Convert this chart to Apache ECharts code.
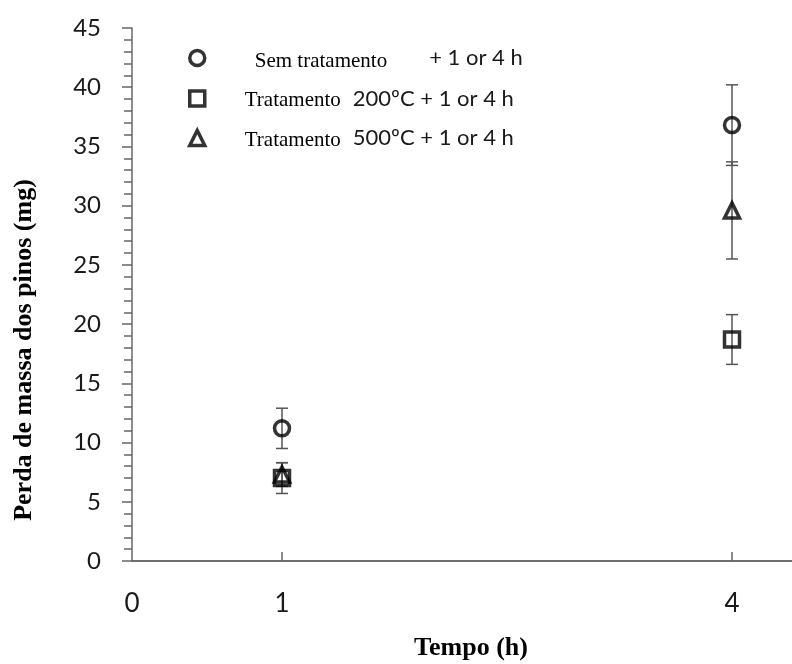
<!DOCTYPE html>
<html>
<head>
<meta charset="utf-8">
<script src="https://cdn.jsdelivr.net/npm/echarts@6/dist/echarts.min.js"></script>
<style>
  html, body { margin: 0; padding: 0; background: #fff; }
  #chart { width: 792px; height: 664px; }
</style>
</head>
<body>
<div id="chart"></div>
<script>
// time values (h) and mean mass loss (mg) with half error bar
const tempos = [1, 4];
const semTratamento = [11.2, 36.8];
const semTratamentoErr = [1.7, 3.4];
const trat200 = [7.0, 18.7];
const trat200Err = [1.3, 2.1];
const trat500 = [7.3, 29.6];
const trat500Err = [1.0, 4.1];
const xLabels = [0, 1, 4];

const nomes = ['Sem tratamento', 'Tratamento 200', 'Tratamento 500'];

const chart = echarts.init(document.getElementById('chart'));

function pontos(vals) {
  return tempos.map((t, i) => [t, vals[i]]);
}
function barras(vals, errs) {
  return tempos.map((t, i) => [t, vals[i] - errs[i], vals[i] + errs[i]]);
}

function renderErro(params, api) {
  const x = api.value(0);
  const lo = api.coord([x, api.value(1)]);
  const hi = api.coord([x, api.value(2)]);
  const cap = 6;
  const style = { stroke: '#555', lineWidth: 1.5 };
  return {
    type: 'group',
    children: [
      { type: 'line', shape: { x1: lo[0], y1: lo[1], x2: hi[0], y2: hi[1] }, style: style },
      { type: 'line', shape: { x1: lo[0] - cap, y1: lo[1], x2: lo[0] + cap, y2: lo[1] }, style: style },
      { type: 'line', shape: { x1: hi[0] - cap, y1: hi[1], x2: hi[0] + cap, y2: hi[1] }, style: style }
    ]
  };
}

const marcador = {
  color: 'rgba(255,255,255,0)',
  borderColor: '#000',
  borderWidth: 3.5
};

const sans = 'Lato, "Open Sans", sans-serif';
const serif = '"Liberation Serif", "DejaVu Serif", serif';

const option = {
  animation: false,
  backgroundColor: '#fff',
  grid: { left: 132, right: 0, top: 28, bottom: 103 },
  legend: {
    orient: 'vertical',
    left: 183,
    top: 42,
    itemWidth: 15,
    itemHeight: 15,
    itemGap: 16,
    data: nomes.map((n, i) => ({
      name: n,
      icon: ['circle', 'rect', 'triangle'][i],
      itemStyle: { color: 'rgba(255,255,255,0)', borderColor: '#000', borderWidth: 3.5 }
    })),
    formatter: function (name) {
      if (name === nomes[0]) return '{s1|Sem tratamento}{t|+ 1 or 4 h}';
      if (name === nomes[1]) return '{s2|Tratamento}{t|200ºC + 1 or 4 h}';
      return '{s2|Tratamento}{t|500ºC + 1 or 4 h}';
    },
    textStyle: {
      rich: {
        s1: { fontFamily: serif, fontSize: 21, color: '#000', padding: [6, 42, 0, 45] },
        s2: { fontFamily: serif, fontSize: 21, color: '#000', padding: [4, 12, 0, 35] },
        t: { fontFamily: sans, fontSize: 22, color: '#1a1a1a' }
      }
    }
  },
  xAxis: [
    {
      type: 'value',
      min: 0,
      max: 4.4,
      axisLine: { lineStyle: { color: '#666', width: 1.5 } },
      axisTick: { show: true, inside: true, length: 9, customValues: [1, 4], lineStyle: { color: '#666', width: 1.5 } },
      axisLabel: { customValues: xLabels, margin: 30, fontFamily: sans, fontSize: 26, color: '#1a1a1a' },
      splitLine: { show: false }
    },
    {
      type: 'value',
      position: 'top',
      min: 0,
      max: 4.4,
      axisLine: { show: true, lineStyle: { color: '#666', width: 1.5 } },
      axisTick: { show: false },
      axisLabel: { show: false },
      splitLine: { show: false }
    }
  ],
  yAxis: [
    {
      type: 'value',
      min: 0,
      max: 45,
      interval: 5,
      axisLine: { show: true, lineStyle: { color: '#666', width: 1.5 } },
      axisTick: { show: true, length: 8, lineStyle: { color: '#666', width: 1.5 } },
      minorTick: { show: true, splitNumber: 5, length: 8, lineStyle: { color: '#666', width: 1.5 } },
      axisLabel: { margin: 31, fontFamily: sans, fontSize: 24, color: '#1a1a1a' },
      splitLine: { show: false }
    },
    {
      type: 'value',
      min: 0,
      max: 45,
      interval: 5,
      axisLine: { show: false },
      axisTick: { show: true, inside: true, length: 10, lineStyle: { color: '#666', width: 1.5 } },
      axisLabel: { show: false },
      splitLine: { show: false }
    }
  ],
  graphic: [
    {
      type: 'text',
      x: 24,
      y: 350,
      rotation: Math.PI / 2,
      style: {
        text: 'Perda de massa dos pinos (mg)',
        font: 'bold 26px "Liberation Serif", serif',
        fill: '#000',
        textAlign: 'center',
        textVerticalAlign: 'middle'
      }
    },
    {
      type: 'text',
      x: 471,
      y: 648,
      style: {
        text: 'Tempo (h)',
        font: 'bold 26px "Liberation Serif", serif',
        fill: '#000',
        textAlign: 'center',
        textVerticalAlign: 'middle'
      }
    }
  ],
  series: [
    { type: 'custom', renderItem: renderErro, data: barras(semTratamento, semTratamentoErr), z: 1, silent: true },
    { type: 'custom', renderItem: renderErro, data: barras(trat200, trat200Err), z: 1, silent: true },
    { type: 'custom', renderItem: renderErro, data: barras(trat500, trat500Err), z: 1, silent: true },
    { name: nomes[0], type: 'scatter', symbol: 'circle', symbolSize: 15, itemStyle: marcador, data: pontos(semTratamento), z: 3 },
    { name: nomes[1], type: 'scatter', symbol: 'rect', symbolSize: 15, itemStyle: marcador, data: pontos(trat200), z: 3 },
    { name: nomes[2], type: 'scatter', symbol: 'triangle', symbolSize: 15, itemStyle: marcador, data: pontos(trat500), z: 3 }
  ]
};

chart.setOption(option);
window.addEventListener('resize', chart.resize);
</script>
</body>
</html>
